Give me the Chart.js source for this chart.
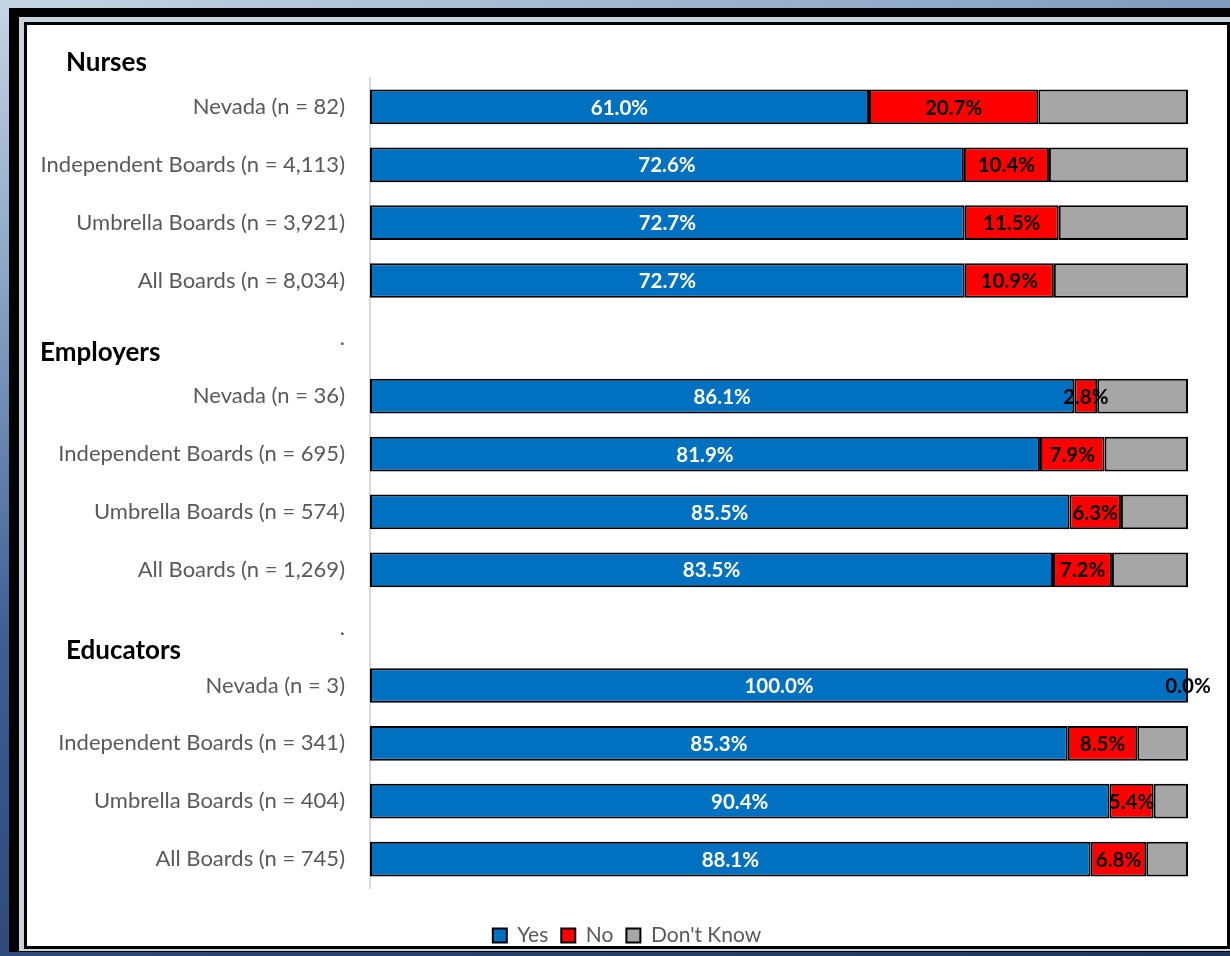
<!DOCTYPE html>
<html lang="en">
<head>
  <meta charset="UTF-8">
  <title>Survey results by board type</title>
  <script src="https://cdn.jsdelivr.net/npm/chart.js"></script>
  <style>
    html, body { margin: 0; padding: 0; }
    body {
      width: 1230px; height: 956px; overflow: hidden; position: relative;
      background: linear-gradient(165deg, #c5d5e3 0%, #8fa9c9 20%, #3c5e94 50%, #1f3560 100%);
    }
    #outer { position: absolute; left: 9px; top: 8px; width: 1240px; height: 944px; background: #000; }
    #line { position: absolute; left: 19px; top: 17px; width: 1230px; height: 934px; background: #c9d3dc; }
    #panel { position: absolute; left: 24px; top: 22px; width: 1200px; height: 921px; background: #fff; border: 3px solid #000; }
    #grafico { position: absolute; left: 0; top: 0; }
  </style>
</head>
<body>
  <div id="outer"></div>
  <div id="line"></div>
  <div id="panel"></div>
  <canvas id="grafico" width="1230" height="956"></canvas>

  <script>
    // Categories (spacer rows are shown as ".")
    const categories = [
      'Nevada (n = 82)', 'Independent Boards (n = 4,113)', 'Umbrella Boards (n = 3,921)', 'All Boards (n = 8,034)',
      '.',
      'Nevada (n = 36)', 'Independent Boards (n = 695)', 'Umbrella Boards (n = 574)', 'All Boards (n = 1,269)',
      '.',
      'Nevada (n = 3)', 'Independent Boards (n = 341)', 'Umbrella Boards (n = 404)', 'All Boards (n = 745)'
    ];
    const yesValues = [61.0, 72.6, 72.7, 72.7, null, 86.1, 81.9, 85.5, 83.5, null, 100.0, 85.3, 90.4, 88.1];
    const noValues = [20.7, 10.4, 11.5, 10.9, null, 2.8, 7.9, 6.3, 7.2, null, 0.0, 8.5, 5.4, 6.8];
    const dontKnowValues = [18.3, 17.0, 15.8, 16.4, null, 11.1, 10.2, 8.2, 9.3, null, 0.0, 6.2, 4.2, 5.1];
    const seriesNames = ['Yes', 'No', "Don't Know"];
    const groupTitles = ['Nurses', 'Employers', 'Educators'];

    // percentage labels inside the Yes and No segments
    const barLabels = {
      id: 'barLabels',
      afterDatasetsDraw(chart) {
        const ctx = chart.ctx;
        ctx.save();
        ctx.font = 'bold 20.5px Lato';
        ctx.textAlign = 'center';
        ctx.textBaseline = 'middle';
        [0, 1].forEach(di => {
          const meta = chart.getDatasetMeta(di);
          meta.data.forEach((bar, i) => {
            const v = chart.data.datasets[di].data[i];
            if (v === null) return;
            const p = bar.getProps(['x', 'base', 'y'], true);
            ctx.fillStyle = di === 0 ? '#ffffff' : '#000000';
            ctx.fillText(v.toFixed(1) + '%', (p.x + p.base) / 2, p.y + 1);
          });
        });
        ctx.restore();
      }
    };

    // group headings + nudge legend a bit to the right
    const groupHeaders = {
      id: 'groupHeaders',
      afterLayout(chart) {
        chart.legend.left += 66;
      },
      afterDraw(chart) {
        const ctx = chart.ctx;
        const y = chart.scales.y;
        ctx.save();
        ctx.font = 'bold 26px Lato';
        ctx.fillStyle = '#000000';
        ctx.textBaseline = 'middle';
        ctx.fillText(groupTitles[0], 66, chart.chartArea.top - 15);
        ctx.fillText(groupTitles[1], 40, y.getPixelForValue(4) + 14);
        ctx.fillText(groupTitles[2], 66, y.getPixelForValue(9) + 23);
        ctx.restore();
      }
    };

    const ctx = document.getElementById('grafico').getContext('2d');
    new Chart(ctx, {
      type: 'bar',
      data: {
        labels: categories,
        datasets: [
          { label: seriesNames[0], data: yesValues, backgroundColor: '#0070C0' },
          { label: seriesNames[1], data: noValues, backgroundColor: '#FF0000' },
          { label: seriesNames[2], data: dontKnowValues, backgroundColor: '#A6A6A6' }
        ]
      },
      options: {
        indexAxis: 'y',
        responsive: false,
        animation: false,
        datasets: {
          bar: {
            borderColor: '#000000',
            borderWidth: 2,
            borderSkipped: false,
            categoryPercentage: 1,
            barPercentage: 0.6
          }
        },
        layout: { padding: { top: 78, right: 42, bottom: 0, left: 0 } },
        scales: {
          x: {
            stacked: true, min: 0, max: 100,
            grid: { display: false },
            border: { display: false },
            ticks: { display: false },
            afterFit: s => { s.height = 24; }
          },
          y: {
            stacked: true,
            grid: { display: false },
            border: { display: true, color: '#d9d9d9', width: 2 },
            ticks: { color: '#595959', font: { family: 'Lato', size: 22 }, padding: 17 },
            afterFit: s => { s.width = 370; }
          }
        },
        plugins: {
          legend: {
            position: 'bottom',
            labels: {
              boxWidth: 14, boxHeight: 14, padding: 13,
              color: '#595959', font: { family: 'Lato', size: 21 }
            }
          },
          tooltip: { enabled: false }
        }
      },
      plugins: [barLabels, groupHeaders]
    });
  </script>
</body>
</html>
